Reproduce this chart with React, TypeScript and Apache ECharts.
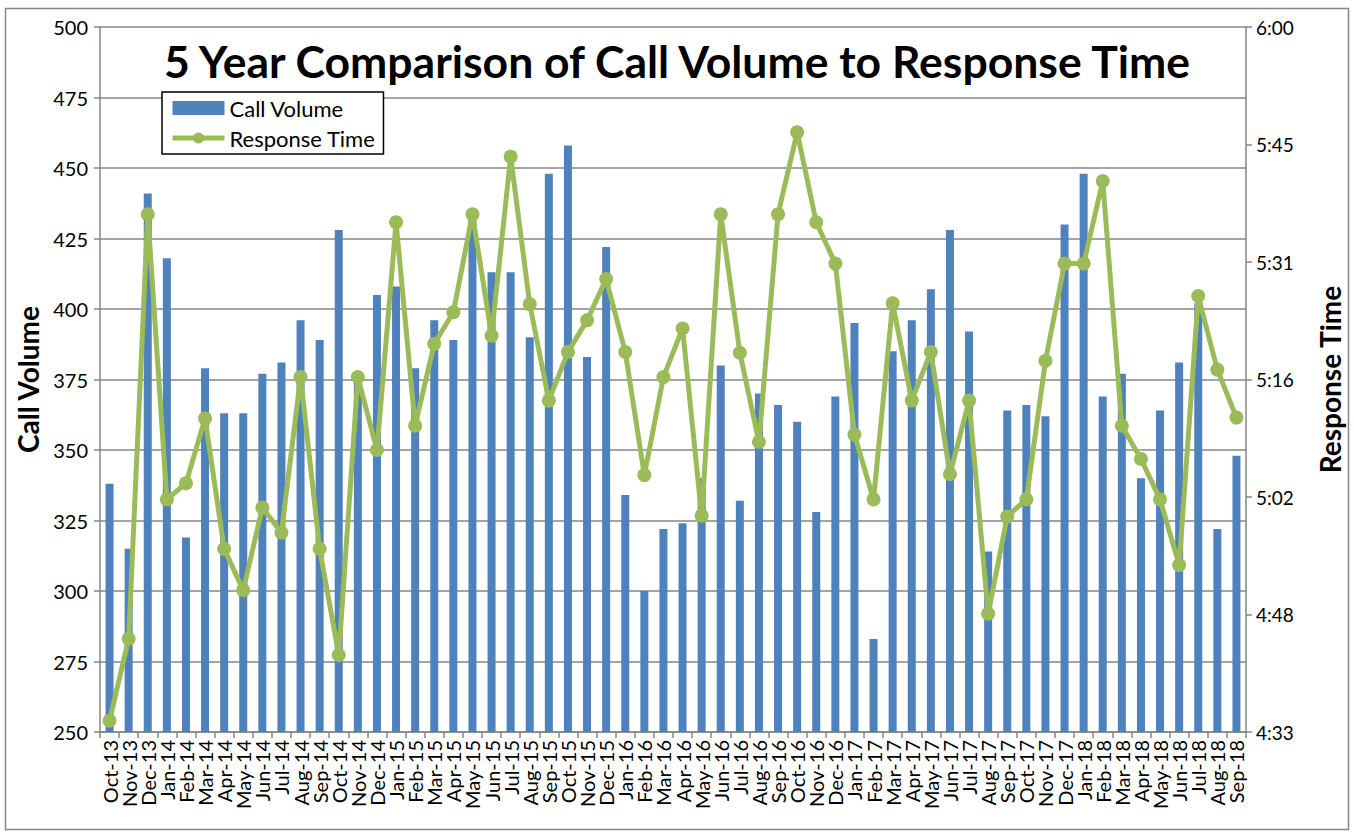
import React, { useEffect, useRef } from "react";
import * as echarts from "echarts";

const categories = [
  "Oct-13", "Nov-13", "Dec-13", "Jan-14", "Feb-14", "Mar-14", "Apr-14", "May-14", "Jun-14", "Jul-14",
  "Aug-14", "Sep-14", "Oct-14", "Nov-14", "Dec-14", "Jan-15", "Feb-15", "Mar-15", "Apr-15", "May-15",
  "Jun-15", "Jul-15", "Aug-15", "Sep-15", "Oct-15", "Nov-15", "Dec-15", "Jan-16", "Feb-16", "Mar-16",
  "Apr-16", "May-16", "Jun-16", "Jul-16", "Aug-16", "Sep-16", "Oct-16", "Nov-16", "Dec-16", "Jan-17",
  "Feb-17", "Mar-17", "Apr-17", "May-17", "Jun-17", "Jul-17", "Aug-17", "Sep-17", "Oct-17", "Nov-17",
  "Dec-17", "Jan-18", "Feb-18", "Mar-18", "Apr-18", "May-18", "Jun-18", "Jul-18", "Aug-18", "Sep-18",
];

const callVolume = [
  338, 315, 441, 418, 319, 379, 363, 363, 377, 381,
  396, 389, 428, 375, 405, 408, 379, 396, 389, 432,
  413, 413, 390, 448, 458, 383, 422, 334, 300, 322,
  324, 340, 380, 332, 370, 366, 360, 328, 369, 395,
  283, 385, 396, 407, 428, 392, 314, 364, 366, 362,
  430, 448, 369, 377, 340, 364, 381, 402, 322, 348,
];

// Response time in minutes (e.g. 274.4 = 4:34:24)
const responseTime = [
  274.4, 284.5, 336.9, 301.7, 303.7, 311.7, 295.6, 290.5, 300.7, 297.6,
  316.8, 295.6, 282.5, 316.8, 307.8, 335.9, 310.8, 320.9, 324.8, 336.9,
  321.9, 344.0, 325.8, 313.9, 319.9, 323.8, 328.9, 319.9, 304.7, 316.8,
  322.8, 299.7, 336.9, 319.8, 308.8, 336.9, 347.0, 335.9, 330.8, 309.7,
  301.7, 325.9, 313.9, 319.9, 304.8, 313.9, 287.6, 299.6, 301.7, 318.8,
  330.8, 330.8, 341.0, 310.8, 306.7, 301.7, 293.6, 326.8, 317.7, 311.8,
];

const rightTickValues = [273, 287.5, 302, 316.5, 331, 345.5, 360];
const rightTickLabels = ["4:33", "4:48", "5:02", "5:16", "5:31", "5:45", "6:00"];

const FONT = "Lato";

export default function App() {
  const ref = useRef<HTMLDivElement>(null);
  useEffect(() => {
    if (!ref.current) return;
    const chart = echarts.init(ref.current, null, { renderer: "svg" });
    const gray = "#868686";
    chart.setOption({
      animation: false,
      backgroundColor: "#fff",
      textStyle: { fontFamily: FONT },
      title: {
        text: "5 Year Comparison of Call Volume to Response Time",
        left: "center",
        top: 33,
        textStyle: { fontFamily: FONT, fontSize: 44.5, fontWeight: "bold", color: "#000" },
      },
      legend: {
        orient: "vertical",
        left: 162,
        top: 92,
        padding: [5, 8, 5, 8],
        itemGap: 8,
        itemWidth: 52,
        itemHeight: 14,
        backgroundColor: "#fff",
        borderColor: "#000",
        borderWidth: 1.5,
        borderRadius: 0,
        textStyle: { fontFamily: FONT, fontSize: 22, color: "#000" },
        data: [
          { name: "Call Volume", icon: "rect" },
          { name: "Response Time", lineStyle: { width: 5, color: "#9BBB59" } },
        ],
      },
      grid: { left: 100, right: 108, top: 27, bottom: 103, containLabel: false },
      xAxis: {
        type: "category",
        data: categories,
        axisLine: { lineStyle: { color: gray, width: 1.5 } },
        axisTick: { show: true, alignWithLabel: false, length: 6, lineStyle: { color: gray, width: 1.5 } },
        axisLabel: { rotate: 90, interval: 0, fontSize: 20, color: "#000", margin: 8, fontFamily: FONT },
      },
      yAxis: [
        {
          type: "value",
          min: 250,
          max: 500,
          interval: 25,
          position: "left",
          name: "Call Volume",
          nameLocation: "middle",
          nameRotate: 90,
          nameGap: 56,
          nameTextStyle: { fontFamily: FONT, fontSize: 28, fontWeight: "bold", color: "#000" },
          axisLine: { show: true, lineStyle: { color: gray, width: 1.5 } },
          axisTick: { show: true, length: 6, lineStyle: { color: gray, width: 1.5 } },
          axisLabel: { fontSize: 20, color: "#000", margin: 12, fontFamily: FONT },
          splitLine: { show: true, lineStyle: { color: gray, width: 1.5 } },
        },
        {
          type: "value",
          min: 273,
          max: 360,
          position: "right",
          alignTicks: false,
          name: "Response Time",
          nameLocation: "middle",
          nameRotate: 90,
          nameGap: 70,
          nameTextStyle: { fontFamily: FONT, fontSize: 28, fontWeight: "bold", color: "#000" },
          axisLine: { show: true, lineStyle: { color: gray, width: 1.5 } },
          axisTick: { show: true, length: 6, customValues: rightTickValues, lineStyle: { color: gray, width: 1.5 } },
          axisLabel: {
            fontSize: 19,
            color: "#000",
            margin: 10,
            fontFamily: FONT,
            customValues: rightTickValues,
            formatter: (v: number) => {
              const i = rightTickValues.findIndex((t) => Math.abs(t - v) < 0.01);
              return i >= 0 ? rightTickLabels[i] : "";
            },
          },
          splitLine: { show: false },
        },
      ],
      series: [
        {
          name: "Call Volume",
          type: "bar",
          data: callVolume,
          barWidth: 8,
          itemStyle: { color: "#4F81BD" },
          z: 2,
        },
        {
          name: "Response Time",
          type: "line",
          yAxisIndex: 1,
          data: responseTime,
          symbol: "circle",
          symbolSize: 14,
          lineStyle: { color: "#9BBB59", width: 5 },
          itemStyle: { color: "#9BBB59" },
          z: 3,
        },
      ],
      graphic: [
        {
          type: "rect",
          shape: { x: 5.5, y: 8.5, width: 1343, height: 821 },
          style: { fill: "none", stroke: gray, lineWidth: 1.5 },
          silent: true,
        },
      ],
    });
    return () => chart.dispose();
  }, []);
  return (
    <div
      ref={ref}
      style={{ position: "fixed", left: 0, top: 0, width: 1354, height: 835, background: "#fff" }}
    />
  );
}
